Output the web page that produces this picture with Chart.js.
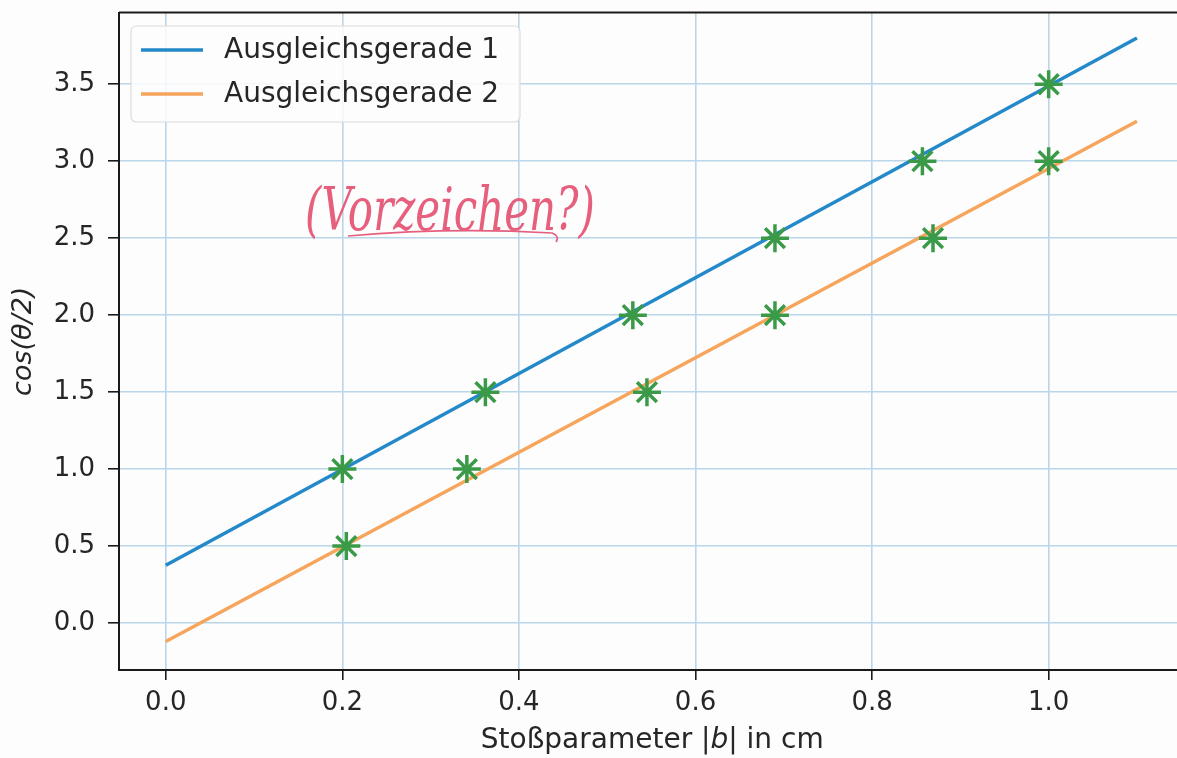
<!DOCTYPE html>
<html>
<head>
<meta charset="utf-8">
<script src="https://cdn.jsdelivr.net/npm/chart.js@4.4.1/dist/chart.umd.min.js"></script>
<style>
html,body{margin:0;padding:0;background:#fdfdfd;overflow:hidden;}
#wrap{width:1177px;height:758px;position:relative;overflow:hidden;}
canvas{position:absolute;left:0;top:-5px;}
</style>
</head>
<body>
<div id="wrap"><canvas id="c" width="1203" height="763"></canvas></div>
<script>
// ---- data ----
const lineX = [0, 1.1];
const line1Y = [0.375, 3.80];
const line2Y = [-0.12, 3.26];
const pts1X = [0.2, 0.362, 0.529, 0.690, 0.857, 1.0];
const pts1Y = [1.0, 1.5, 2.0, 2.5, 3.0, 3.5];
const pts2X = [0.2045, 0.341, 0.545, 0.690, 0.869, 1.0];
const pts2Y = [0.5, 1.0, 1.5, 2.0, 2.5, 3.0];
const xTicks = [0.0, 0.2, 0.4, 0.6, 0.8, 1.0];
const yTicks = [0.0, 0.5, 1.0, 1.5, 2.0, 2.5, 3.0, 3.5];
const seriesNames = ['Ausgleichsgerade 1', 'Ausgleichsgerade 2'];
const xTitleParts = ['Stoßparameter |', 'b', '| in cm'];
const yTitle = 'cos(θ/2)';
const note = '(Vorzeichen?)';

const BLUE = '#2489c9', ORANGE = '#f6a55c', GREEN = '#3a9a48';
const FONT = "'DejaVu Sans', sans-serif";
const OFF = 5; // canvas is shifted up by this many px

const zip = (xs, ys) => xs.map((x, i) => ({x, y: ys[i]}));

const decor = {
  id: 'decor',
  afterDraw(chart) {
    const ctx = chart.ctx, a = chart.chartArea;
    ctx.save();
    // top spine
    ctx.strokeStyle = '#1a1a1a'; ctx.lineWidth = 2;
    ctx.beginPath(); ctx.moveTo(a.left, a.top); ctx.lineTo(a.right, a.top); ctx.stroke();
    ctx.translate(0, OFF);
    // legend box
    const bx = 131, by = 26, bw = 389, bh = 96, r = 6;
    ctx.fillStyle = 'rgba(253,253,253,0.85)';
    ctx.strokeStyle = '#dcdcdc'; ctx.lineWidth = 1.2;
    ctx.beginPath();
    ctx.moveTo(bx + r, by); ctx.lineTo(bx + bw - r, by); ctx.quadraticCurveTo(bx + bw, by, bx + bw, by + r);
    ctx.lineTo(bx + bw, by + bh - r); ctx.quadraticCurveTo(bx + bw, by + bh, bx + bw - r, by + bh);
    ctx.lineTo(bx + r, by + bh); ctx.quadraticCurveTo(bx, by + bh, bx, by + bh - r);
    ctx.lineTo(bx, by + r); ctx.quadraticCurveTo(bx, by, bx + r, by);
    ctx.closePath(); ctx.fill(); ctx.stroke();
    ctx.font = '28px ' + FONT; ctx.textBaseline = 'middle'; ctx.textAlign = 'left';
    [0, 1].forEach(i => {
      const ds = chart.data.datasets[i];
      const yy = 50 + i * 44;
      ctx.strokeStyle = ds.borderColor; ctx.lineWidth = 3.5;
      ctx.beginPath(); ctx.moveTo(141, yy); ctx.lineTo(203, yy); ctx.stroke();
      ctx.fillStyle = '#262626';
      ctx.fillText(ds.label, 224, yy + 1);
    });
    // x title with italic b
    const fN = '28px ' + FONT, fI = 'italic 28px ' + FONT;
    ctx.font = fN; const w0 = ctx.measureText(xTitleParts[0]).width, w2 = ctx.measureText(xTitleParts[2]).width;
    ctx.font = fI; const w1 = ctx.measureText(xTitleParts[1]).width;
    let x = (a.left + a.right) / 2 - (w0 + w1 + w2) / 2; const ty = 741;
    ctx.fillStyle = '#262626'; ctx.textBaseline = 'middle';
    ctx.font = fN; ctx.fillText(xTitleParts[0], x, ty); x += w0;
    ctx.font = fI; ctx.fillText(xTitleParts[1], x, ty); x += w1;
    ctx.font = fN; ctx.fillText(xTitleParts[2], x, ty);
    // handwritten note
    ctx.fillStyle = '#e6607e'; ctx.strokeStyle = '#e6607e';
    ctx.font = "italic 52px 'DejaVu Serif', serif";
    ctx.textBaseline = 'alphabetic';
    const nw = ctx.measureText(note).width;
    ctx.save();
    ctx.translate(305, 230);
    ctx.scale(290 / nw, 1.15);
    ctx.fillText(note, 0, 0);
    ctx.restore();
    ctx.lineWidth = 1.6;
    ctx.beginPath(); ctx.moveTo(348, 236); ctx.quadraticCurveTo(450, 227, 552, 233); ctx.quadraticCurveTo(560, 236, 556, 242); ctx.stroke();
    ctx.restore();
  }
};

new Chart(document.getElementById('c'), {
  type: 'scatter',
  data: {
    datasets: [
      {label: seriesNames[0], type: 'line', data: zip(lineX, line1Y), borderColor: BLUE, borderWidth: 3.5, pointRadius: 0, fill: false, order: 2},
      {label: seriesNames[1], type: 'line', data: zip(lineX, line2Y), borderColor: ORANGE, borderWidth: 3.5, pointRadius: 0, fill: false, order: 2},
      {label: 'pts1', data: zip(pts1X, pts1Y), pointStyle: 'star', pointRadius: 14, borderColor: GREEN, backgroundColor: GREEN, borderWidth: 3.5, order: 1},
      {label: 'pts2', data: zip(pts2X, pts2Y), pointStyle: 'star', pointRadius: 14, borderColor: GREEN, backgroundColor: GREEN, borderWidth: 3.5, order: 1}
    ]
  },
  options: {
    responsive: false, animation: false,
    layout: {padding: {top: 0, right: 0, left: 0, bottom: 0}},
    plugins: {legend: {display: false}, tooltip: {enabled: false}},
    scales: {
      x: {
        type: 'linear', min: -0.053, max: 1.155,
        afterBuildTicks: s => { s.ticks = xTicks.map(v => ({value: v})); },
        afterFit: s => { s.height = 88; s.paddingLeft = 0; s.paddingRight = 0; },
        grid: {color: '#b9d6ea', lineWidth: 1.6, tickLength: 10, tickColor: '#1a1a1a', tickWidth: 1.6},
        border: {color: '#1a1a1a', width: 2},
        ticks: {color: '#262626', font: {family: FONT, size: 26}, padding: 8, maxRotation: 0, callback: v => Number(v).toFixed(1)}
      },
      y: {
        type: 'linear', min: -0.305, max: 3.966,
        afterBuildTicks: s => { s.ticks = yTicks.map(v => ({value: v})); },
        afterFit: s => { s.width = 119; s.paddingTop = 0; s.paddingBottom = 0; },
        grid: {color: '#b9d6ea', lineWidth: 1.6, tickLength: 11, tickColor: '#1a1a1a', tickWidth: 1.6},
        border: {color: '#1a1a1a', width: 2},
        ticks: {color: '#262626', font: {family: FONT, size: 26}, padding: 13, callback: v => Number(v).toFixed(1)},
        title: {display: true, text: yTitle, color: '#262626', font: {family: FONT, size: 27, style: 'italic'}, padding: {top: 8, bottom: 0}}
      }
    }
  },
  plugins: [decor]
});
</script>
</body>
</html>
